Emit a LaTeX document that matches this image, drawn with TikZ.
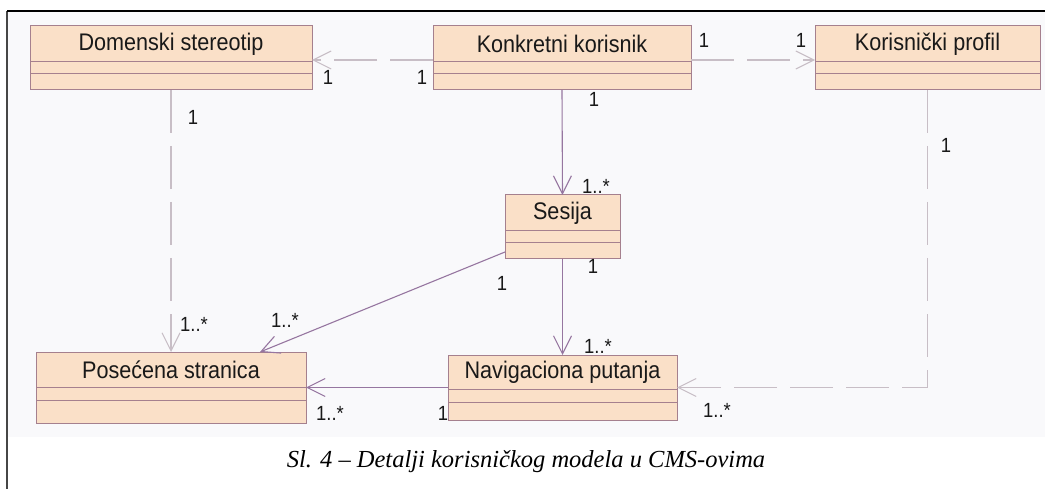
\documentclass[tikz,border=0pt]{standalone}
\usepackage{fontspec}
\setmainfont{Liberation Sans}
\newfontfamily\capfont{Liberation Serif}
\newfontfamily\clsfont[FakeStretch=0.9]{Liberation Sans}
\usetikzlibrary{arrows.meta}
\definecolor{boxfill}{RGB}{250,224,200}
\definecolor{boxline}{RGB}{165,128,142}
\definecolor{solidc}{RGB}{150,118,160}
\definecolor{dashc}{RGB}{200,190,198}
\definecolor{bgc}{RGB}{249,249,251}
\definecolor{framec}{RGB}{70,70,70}
\definecolor{txtc}{RGB}{25,25,25}
\tikzset{
  cls/.style={draw=boxline, fill=boxfill, line width=1pt, inner sep=0pt, outer sep=0pt},
  divider/.style={draw=boxline, line width=1pt},
  ctitle/.style={font=\clsfont\fontsize{24}{24}\selectfont, text=txtc, inner sep=0pt},
  mult/.style={font=\clsfont\fontsize{20.5}{20.5}\selectfont, text=txtc, inner sep=0pt},
  tip/.style={-{Straight Barb[length=18pt,width=18pt,line width=1.1pt]}},
  assoc/.style={draw=solidc, line width=1.1pt, tip},
  dep/.style={draw=dashc, line width=1.1pt, dash pattern=on 43pt off 13pt, tip},
}
\begin{document}
\begin{tikzpicture}[x=1pt,y=-1pt]
\useasboundingbox (0,0) rectangle (1050,489);
\fill[white] (0,0) rectangle (1050,489);
\fill[bgc] (8,12) rectangle (1045,437);
\draw[framec, line width=2pt] (7,11) -- (7,489);
\draw[black, line width=1.4pt] (7,11) -- (1045,11);

% classes
\node[cls, minimum width=282pt, minimum height=64pt] (dom) at (171,58) {};
\node[cls, minimum width=258pt, minimum height=64pt] (konk) at (562,58) {};
\node[cls, minimum width=225pt, minimum height=64pt] (kor) at (927.5,58) {};
\node[cls, minimum width=115pt, minimum height=64pt] (ses) at (562.5,227) {};
\node[cls, minimum width=270pt, minimum height=71pt] (pos) at (171,387.5) {};
\node[cls, minimum width=229pt, minimum height=65pt] (nav) at (562.5,387.5) {};

\foreach \c/\a/\b in {dom/36/48, konk/36/48, kor/36/48, ses/36/48, pos/35/48, nav/34/47}{
  \draw[divider] ([yshift=-\a pt]\c.north west) -- ([yshift=-\a pt]\c.north east);
  \draw[divider] ([yshift=-\b pt]\c.north west) -- ([yshift=-\b pt]\c.north east);
}

\node[ctitle] (domT) at ([yshift=-18pt]dom.north) {Domenski stereotip};
\node[ctitle] (konkT) at ([yshift=-18pt]konk.north) {Konkretni korisnik};
\node[ctitle] (korT) at ([yshift=-18pt]kor.north) {Korisnički profil};
\node[ctitle] (sesT) at ([yshift=-18pt]ses.north) {Sesija};
\node[ctitle] (posT) at ([yshift=-17.5pt]pos.north) {Posećena stranica};
\node[ctitle] (navT) at ([yshift=-17pt]nav.north) {Navigaciona putanja};

% connectors
\draw[dep] ([yshift=-34pt]konk.north west) -- ([yshift=-34pt]dom.north east);
\draw[dep] ([yshift=-34pt]konk.north east) -- ([yshift=-34pt]kor.north west);
\draw[assoc] (konk.south) -- (ses.north);
\draw[assoc] (ses.south) -- (nav.north);
\draw[assoc] ([yshift=7pt]ses.south west) -- ([xshift=89pt]pos.north);
\draw[assoc] (nav.west) -- (pos.east);
\draw[dep] (dom.south) -- (pos.north);
\draw[dep] (kor.south) |- (nav.east);

% multiplicities
\node[mult] (m1) at (328,77) {1};
\node[mult] (m2) at (422,77) {1};
\node[mult] (m3) at (704,40) {1};
\node[mult] (m4) at (801,40) {1};
\node[mult] (m5) at (594,99) {1};
\node[mult] (m6) at (596,186) {1..*};
\node[mult] (m7) at (593,266) {1};
\node[mult] (m8) at (598,346) {1..*};
\node[mult] (m9) at (502,283) {1};
\node[mult] (m10) at (285,320) {1..*};
\node[mult] (m11) at (193,117) {1};
\node[mult] (m12) at (194,324) {1..*};
\node[mult] (m13) at (330,413) {1..*};
\node[mult] (m14) at (443,413) {1};
\node[mult] (m15) at (946,145) {1};
\node[mult] (m16) at (717,410) {1..*};

% caption
\node[font=\capfont\itshape\fontsize{24.5}{24.5}\selectfont, anchor=base, inner sep=0pt] (cap) at (526,467) {Sl. 4 – Detalji korisničkog modela u CMS-ovima};
\end{tikzpicture}
\end{document}
